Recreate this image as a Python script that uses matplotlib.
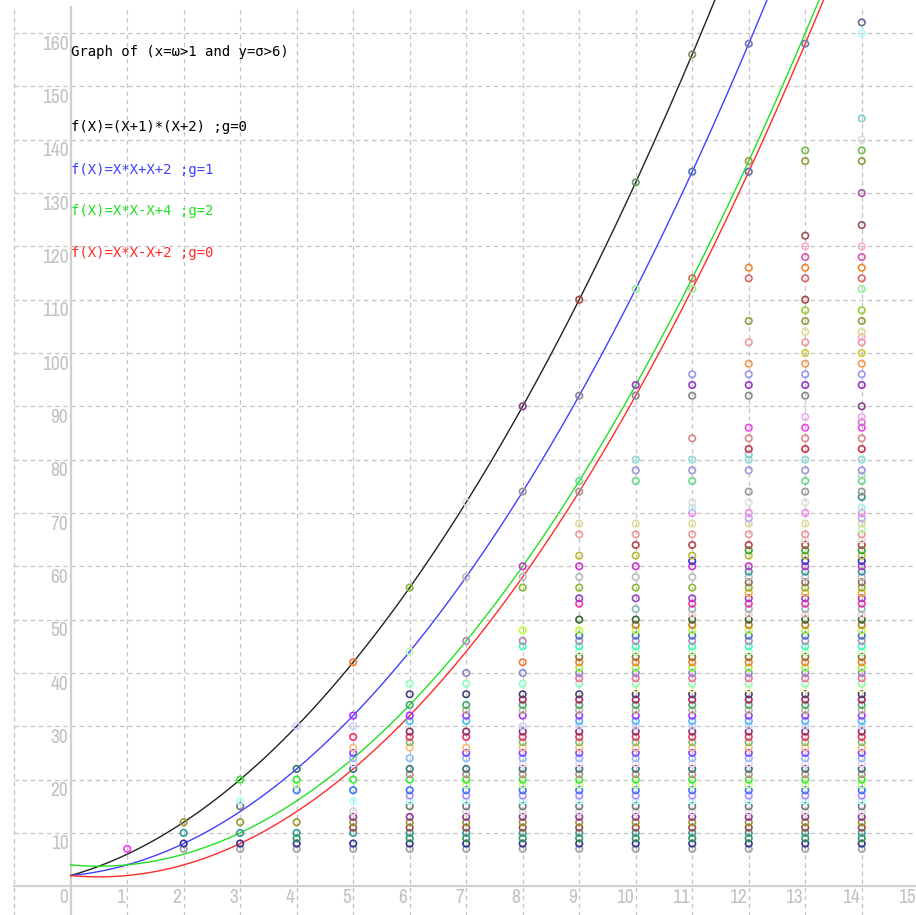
import numpy as np
import matplotlib
matplotlib.use('Agg')
from matplotlib import pyplot as plt
from matplotlib import font_manager

# points per column, x = 1..14
col1 = [7]
col2 = [7, 8, 10, 12]
col3 = [7, 8, 10, 12, 15, 16, 20]
col4 = [7, 8, 9, 10, 12, 18, 19, 20, 22, 30]
col5 = [7, 8, 10, 11, 12, 13, 14, 16, 18, 20, 22, 23, 24, 25, 26, 28, 30, 32, 42]
col6 = [7, 8, 9, 10, 11, 12, 13, 15, 16, 17, 18, 20, 21, 22, 24, 26, 27, 28, 29,
        31, 32, 34, 36, 38, 44, 56]
col7 = [7, 8, 9, 10, 11, 12, 13, 14, 15, 16, 17, 18, 19, 20, 21, 22, 24, 25, 26,
        28, 29, 31, 32, 33, 34, 36, 38, 40, 46, 58, 72]
col8 = [7, 8, 9, 10, 11, 12, 13, 14, 15, 16, 17, 18, 19, 20, 21, 22, 23, 24, 25,
        26, 27, 28, 29, 30, 32, 33, 34, 35, 36, 38, 40, 42, 45, 46, 48, 56, 58, 60,
        74, 90]
col9 = [7, 8, 9, 10, 11, 12, 13, 14, 15, 16, 17, 18, 19, 20, 21, 22, 23, 24, 25,
        26, 27, 28, 29, 30, 31, 32, 33, 34, 35, 36, 38, 39, 40, 41, 42, 43, 44, 45,
        46, 47, 48, 50, 53, 54, 56, 58, 60, 62, 66, 68, 74, 76, 92, 110]
col10 = [7, 8, 9, 10, 11, 12, 13, 14, 15, 16, 17, 18, 19, 20, 21, 22, 23, 24, 25,
         26, 27, 28, 29, 30, 31, 32, 33, 34, 35, 36, 37, 38, 39, 40, 41, 42, 43, 44,
         45, 46, 47, 48, 49, 50, 52, 54, 56, 58, 60, 62, 64, 66, 68, 76, 78, 80, 92,
         94, 112, 132]
low_run = [7, 8, 9, 10, 11, 12, 13, 14, 15, 16, 17, 18, 19, 20, 21, 22, 23, 24, 25,
           26, 27, 28, 29, 30, 31, 32, 33, 34, 35, 36, 37, 38, 39, 40, 41, 42, 43, 44,
           45, 46, 47, 48, 49, 50, 51, 52, 53, 54, 55, 56, 57]
col11 = low_run[:48] + [56, 58, 60, 61, 62, 64, 66, 68, 70, 71, 72, 76, 78, 80, 84,
                        92, 94, 96, 112, 114, 134, 156]
col12 = low_run + [58, 59, 60, 62, 63, 64, 66, 68, 69, 70, 72, 74, 78, 80, 81, 82,
                   84, 86, 92, 94, 96, 98, 102, 106, 114, 116, 134, 136, 158]
col13 = low_run + [58, 59, 60, 61, 62, 63, 64, 65, 66, 68, 70, 72, 74, 76, 78, 80,
                   82, 84, 86, 88, 92, 94, 96, 98, 100, 102, 104, 106, 108, 110, 114,
                   116, 118, 120, 122, 136, 138, 158]
col14 = low_run + [58, 59, 60, 61, 62, 63, 64, 65, 66, 67, 68, 69, 70, 71, 73, 74,
                   76, 77, 78, 80, 82, 84, 86, 87, 88, 90, 94, 96, 98, 100, 102, 103,
                   104, 106, 108, 112, 114, 116, 118, 120, 124, 130, 136, 138, 140,
                   144, 160, 162]
columns = [col1, col2, col3, col4, col5, col6, col7, col8, col9, col10, col11,
           col12, col13, col14]

# f(X) = a*X*X + b*X + c
curve_labels = ['f(X)=(X+1)*(X+2) ;g=0', 'f(X)=X*X+X+2 ;g=1',
                'f(X)=X*X-X+4 ;g=2', 'f(X)=X*X-X+2 ;g=0']
curve_coefs = [(1, 3, 2), (1, 1, 2), (1, -1, 4), (1, -1, 2)]
curve_colors = ['#222222', '#4040ff', '#22e022', '#ff2a2a']
title = 'Graph of (x=\u03c9>1 and y=\u03c3>6)'

x_ticks = list(range(0, 16))
y_ticks = list(range(10, 170, 10))

dot_color = {
    7: '#a0a0a0', 8: '#333399', 9: '#339955', 10: '#339999', 11: '#aa4444', 12: '#999933',
    13: '#993399', 14: '#d8d8d8', 15: '#777777', 16: '#aaffff', 17: '#bb88ff', 18: '#3377ff',
    19: '#ccff88', 20: '#33ee33', 21: '#cc8888', 22: '#337777', 23: '#ffccee', 24: '#88bbff',
    25: '#8844ff', 26: '#ffbb77', 27: '#88bb66', 28: '#ee3366', 29: '#883366', 30: '#ccccff',
    31: '#44bbff', 32: '#aa33ff', 33: '#bbbb88', 34: '#44aa77', 35: '#bb2255', 36: '#444477',
    37: '#ffffaa', 38: '#88ffbb', 39: '#ff6699', 40: '#8888cc', 41: '#88ff33', 42: '#ff7733',
    43: '#887733', 44: '#bbffbb', 45: '#33ffbb', 46: '#bb88bb', 47: '#4477cc', 48: '#bbff33',
    49: '#cc7733', 50: '#336633', 51: '#ffcccc', 52: '#88bbbb', 53: '#ff33aa', 54: '#9944cc',
    55: '#ffaa33', 56: '#88bb33', 57: '#996666', 58: '#bbbbbb', 59: '#339999', 60: '#cc33cc',
    61: '#3333cc', 62: '#bbbb33', 63: '#33aa33', 64: '#bb4444', 65: '#dddddd', 66: '#ee9999',
    67: '#aaffaa', 68: '#dddd99', 69: '#bbaaee', 70: '#ee88ee', 71: '#aaeeee', 72: '#e0e0e0',
    73: '#448888', 74: '#999999', 76: '#66dd88', 77: '#aaddaa', 78: '#9999dd', 80: '#88dddd',
    81: '#88cccc', 82: '#cc3344', 84: '#dd8888', 86: '#ee44ee', 87: '#cc77cc', 88: '#eeaaee',
    90: '#884488', 92: '#888888', 94: '#9933cc', 96: '#9999ee', 98: '#ee9955', 100: '#cccc33',
    102: '#ee9999', 103: '#ffaacc', 104: '#dddd99', 106: '#999944', 108: '#99cc33', 110: '#aa4444',
    112: '#99ee99', 114: '#dd6666', 116: '#ee8833', 118: '#dd55aa', 120: '#ffaacc', 122: '#995555',
    124: '#995555', 130: '#aa55aa', 132: '#669966', 134: '#5577aa', 136: '#999944', 138: '#77bb55',
    140: '#dddddd', 144: '#88cccc', 156: '#888866', 158: '#7777aa', 160: '#aaffff', 162: '#666699',
}

# narrow face for the tick numbers, if there is one
tick_font = ['DejaVu Sans']
for f in font_manager.fontManager.ttflist:
    if 'Narrow' in f.name or 'Condensed' in f.name:
        tick_font = [f.name, 'DejaVu Sans']
        break

fig = plt.figure(figsize=(9.16, 9.15), dpi=100)
ax = fig.add_axes([0, 0, 1, 1])
ax.set_axis_off()
ax.set_xlim(-1.25, 14.96)
ax.set_ylim(-5.4, 166.2)

# dashed grid
grid_kw = dict(color='#c4c4c4', lw=0.9, linestyle=(0, (3.5, 3)), zorder=1)
for gx in range(-1, 16):
    if gx != 0:
        ax.plot([gx, gx], [-6, 164.8], **grid_kw)
for gy in y_ticks:
    ax.plot([-1, 15.5], [gy, gy], **grid_kw)

# axis lines
ax.plot([0, 0], [-6, 164.8], color='#d0d0d0', lw=1.6, zorder=2)
ax.plot([-1, 15.5], [0, 0], color='#d0d0d0', lw=1.6, zorder=2)

for t in x_ticks:
    ax.text(t - 0.04, -0.4, str(t), ha='right', va='top', color='#c2c2c2',
            fontsize=14, family=tick_font, fontstretch='condensed')
for t in y_ticks:
    ax.text(-0.04, t - 0.3, str(t), ha='right', va='top', color='#c2c2c2',
            fontsize=14, family=tick_font, fontstretch='condensed')

# curves
xx = np.linspace(0, 15, 301)
for (a, b, c), col in zip(curve_coefs, curve_colors):
    ax.plot(xx, a * xx * xx + b * xx + c, color=col, lw=1.0, zorder=3)

# points
for i, ys in enumerate(columns):
    xs = [i + 1] * len(ys)
    if i == 0:
        cols = ['#ff33ff']
    else:
        cols = [dot_color.get(v, '#aaaaaa') for v in ys]
    ax.scatter(xs, ys, s=22, facecolors='none', edgecolors=cols, linewidths=1.2, zorder=4)

# labels
mono = ['DejaVu Sans Mono']
ax.text(0.0, 156.4, title, ha='left', va='center', fontsize=10.1, family=mono, color='black')
label_y = [142.3, 134.3, 126.7, 118.7]
for lab, ly, col in zip(curve_labels, label_y, curve_colors):
    ax.text(0.0, ly, lab, ha='left', va='center', fontsize=10.1, family=mono,
            color='black' if col == '#222222' else col)

plt.savefig('out.png', dpi=100)
